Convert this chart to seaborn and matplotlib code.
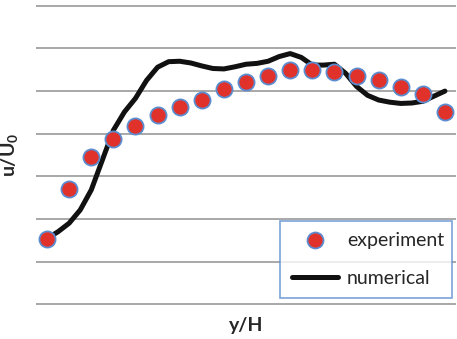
import matplotlib
matplotlib.use("Agg")
import matplotlib.pyplot as plt
from matplotlib.lines import Line2D
import seaborn as sns
import pandas as pd

sns.set_theme(style="white")
plt.rcParams['font.family'] = ['Lato', 'DejaVu Sans']
plt.rcParams['mathtext.fontset'] = 'custom'
plt.rcParams['mathtext.rm'] = 'Lato'
plt.rcParams['mathtext.bf'] = 'Lato:bold'

# --- data (category positions 1..19) ---
exp_pos = list(range(1, 20))
exp_u = [1.53, 2.70, 3.45, 3.87, 4.18, 4.43, 4.63, 4.80, 5.06, 5.21,
         5.35, 5.49, 5.50, 5.45, 5.35, 5.27, 5.10, 4.92, 4.50]

num_pos = [1.0, 1.5, 2.0, 2.5, 3.0, 3.5, 4.0, 4.5, 5.0, 5.5,
           6.0, 6.5, 7.0, 7.5, 8.0, 8.5, 9.0, 9.5, 10.0, 10.5,
           11.0, 11.5, 12.0, 12.5, 13.0, 13.5, 14.0, 14.5, 15.0, 15.5,
           16.0, 16.5, 17.0, 17.5, 18.0, 18.5, 19.0]
num_u = [1.54, 1.70, 1.90, 2.21, 2.68, 3.38, 4.08, 4.51, 4.83, 5.25,
         5.56, 5.69, 5.70, 5.66, 5.59, 5.53, 5.52, 5.57, 5.63, 5.65,
         5.70, 5.81, 5.88, 5.79, 5.61, 5.61, 5.63, 5.42, 5.11, 4.90,
         4.79, 4.74, 4.71, 4.72, 4.76, 4.88, 5.00]

exp_df = pd.DataFrame({'pos': exp_pos, 'u': exp_u})
num_df = pd.DataFrame({'pos': num_pos, 'u': num_u})

RED = '#e0312a'
EDGE = '#5b8cd0'

fig = plt.figure(figsize=(4.57, 3.39), dpi=100)
ax = fig.add_axes([36 / 457, (339 - 305) / 339, 420 / 457, 300 / 339])

sns.lineplot(data=num_df, x='pos', y='u', color='#111111', linewidth=3.6,
             ax=ax, zorder=3, legend=False)
sns.scatterplot(data=exp_df, x='pos', y='u', color=RED, edgecolor=EDGE,
                linewidth=1.3, s=135, ax=ax, zorder=4, legend=False)

ax.set_xlim(0.5, 19.5)
ax.set_ylim(-0.02, 7.02)
ax.set_yticks(range(0, 8))
ax.set_xticks([])
ax.tick_params(axis='y', labelleft=False, length=0)
ax.yaxis.grid(True, color='#a8a8a8', linewidth=1.4)
ax.set_axisbelow(True)
for s in ax.spines.values():
    s.set_visible(False)

ax.set_xlabel('y/H', fontsize=14, labelpad=9)
ax.set_ylabel(r'u/U$_\mathbf{0}$', fontsize=14)
ax.xaxis.label.set_fontweight('bold')
ax.yaxis.label.set_fontweight('bold')
ax.yaxis.set_label_coords(-0.036, 0.5)

handles = [
    Line2D([], [], linestyle='none', marker='o', markersize=11.5,
           markerfacecolor=RED, markeredgecolor=EDGE, markeredgewidth=1.3),
    Line2D([], [], color='#111111', linewidth=3.6),
]
leg = ax.legend(handles, ['experiment', 'numerical'], loc='lower left',
                bbox_to_anchor=(0.581, 0.022, 0.41, 0.272), mode='expand',
                borderaxespad=0, fontsize=14, handlelength=2.4,
                handletextpad=0.45, labelspacing=1.05, borderpad=0.6,
                frameon=True, fancybox=False)
leg.get_frame().set_edgecolor(EDGE)
leg.get_frame().set_linewidth(1.2)

fig.savefig('out.png', dpi=100)
